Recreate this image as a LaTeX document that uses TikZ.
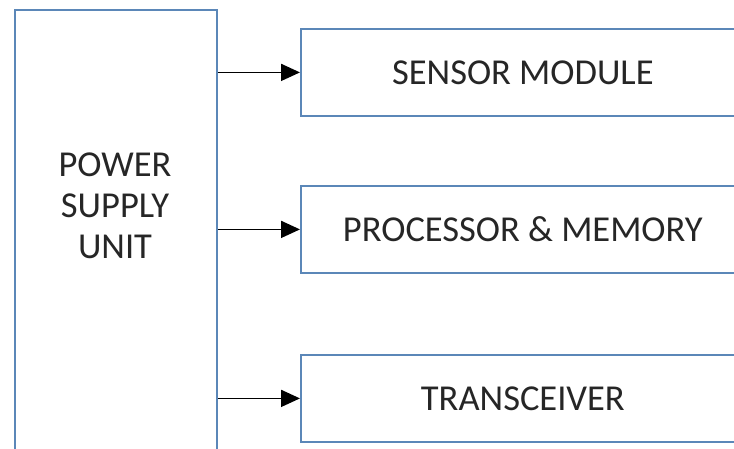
\documentclass[tikz,border=0pt]{standalone}
\usepackage{fontspec}
\setmainfont{Carlito}
\usetikzlibrary{arrows.meta}
\definecolor{boxblue}{HTML}{5B87B8}
\tikzset{
  blockbox/.style={draw=boxblue, line width=1.8pt, fill=white, rectangle, inner sep=0pt},
  lbl/.style={font=\fontsize{36.5}{41}\selectfont, align=center, text=black!85, inner sep=0pt},
  arr/.style={draw=black, line width=1.8pt, -{Triangle[length=19pt,width=17pt]}}
}
\begin{document}
\begin{tikzpicture}[x=1pt,y=-1pt]
\useasboundingbox (0,0) rectangle (734,448);
\clip (0,0) rectangle (734,448);
\fill[white] (0,0) rectangle (734,448);
% boxes
\node[blockbox, anchor=north west, minimum width=202pt, minimum height=460pt] (psu) at (14,9) {};
\node[lbl] (psutext) at (115,206) {POWER\\SUPPLY\\UNIT};
\node[blockbox, anchor=north west, minimum width=444pt, minimum height=87pt] (sensor) at (300,28) {};
\node[lbl] (sensortext) at (sensor.center) {SENSOR MODULE};
\node[blockbox, anchor=north west, minimum width=444pt, minimum height=87pt] (proc) at (300,185) {};
\node[lbl] (proctext) at (proc.center) {PROCESSOR \& MEMORY};
\node[blockbox, anchor=north west, minimum width=444pt, minimum height=87pt] (trx) at (300,354) {};
\node[lbl] (trxtext) at (trx.center) {TRANSCEIVER};
% arrows
\draw[arr] (psu.east |- sensor.west) -- (sensor.west);
\draw[arr] (psu.east |- proc.west) -- (proc.west);
\draw[arr] (psu.east |- trx.west) -- (trx.west);
\end{tikzpicture}
\end{document}
